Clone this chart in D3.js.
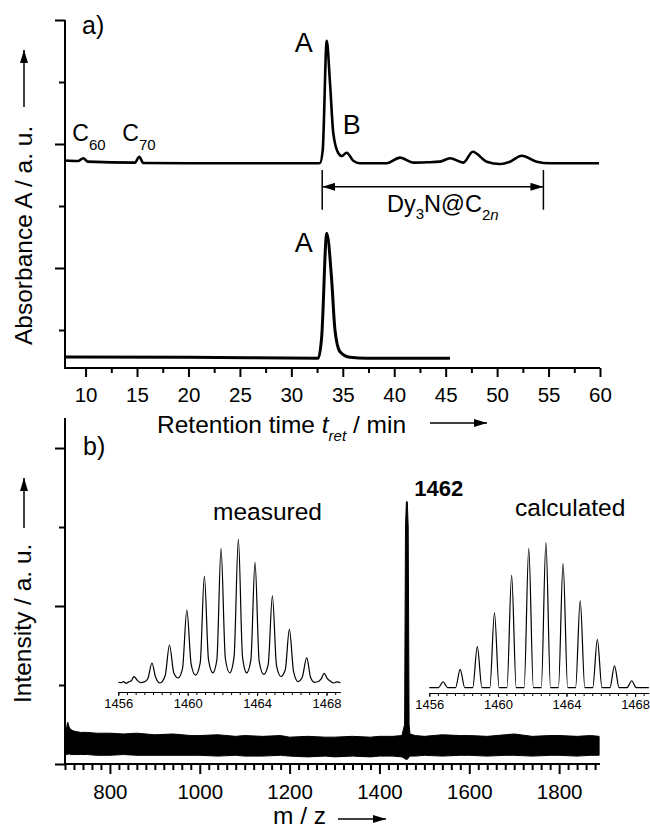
<!DOCTYPE html>
<html>
<head>
<meta charset="utf-8">
<script src="https://cdn.jsdelivr.net/npm/d3@7"></script>
<style>
  body { margin: 0; background: #fff; }
  svg text { font-family: "Liberation Sans", Arial, Helvetica, sans-serif; fill: #000; }
</style>
</head>
<body>
<script>
// ---- a) HPLC traces (retention time in min, absorbance in a.u.) ----
var topTime = [8, 9.3, 9.78, 10.2, 14.8, 15.22, 15.6, 20, 32.5, 32.79, 33.05, 33.44, 33.76, 34.08, 34.57, 34.9, 35.38, 36.02, 36.67, 39.27, 40.56, 41.86, 43.16, 44.45, 45.42, 46.72, 47.63, 48.99, 50.28, 51.26, 52.39, 53.85, 55.14, 59.9];
var topAbs  = [2.734, 2.726, 2.77, 2.715, 2.70, 2.795, 2.694, 2.69, 2.69, 2.694, 2.90, 4.666, 3.98, 3.17, 2.85, 2.806, 2.86, 2.73, 2.69, 2.69, 2.78, 2.70, 2.705, 2.715, 2.77, 2.70, 2.876, 2.715, 2.677, 2.715, 2.81, 2.715, 2.69, 2.69];
var lowTime = [8, 20, 32.62, 32.95, 33.44, 33.92, 34.24, 34.73, 35.7, 37.33, 45.42];
var lowAbs  = [-0.437, -0.44, -0.456, -0.108, 1.56, 0.806, 0.0, -0.35, -0.44, -0.456, -0.456];
var hplcMajor = [10, 15, 20, 25, 30, 35, 40, 45, 50, 55, 60];
var hplcMinor = [12.5, 17.5, 22.5, 27.5, 32.5, 37.5, 42.5, 47.5, 52.5, 57.5];
var dyRange = [33.0, 54.5];

// ---- b) mass spectrum envelope (m/z, intensity a.u.) ----
var msMz  = [700, 703, 706, 709, 712, 718, 725, 735, 750, 770, 800, 830, 860, 900, 940, 980, 1000, 1040, 1080, 1100, 1140, 1180, 1200, 1240, 1280, 1300, 1340, 1380, 1400, 1430, 1450, 1456, 1458, 1460, 1462, 1464, 1466, 1468, 1480, 1500, 1540, 1580, 1600, 1640, 1680, 1700, 1740, 1780, 1800, 1840, 1870, 1889];
var msTop = [0.36, 0.44, 0.53, 0.47, 0.44, 0.42, 0.41, 0.40, 0.40, 0.39, 0.39, 0.38, 0.39, 0.37, 0.38, 0.36, 0.36, 0.37, 0.35, 0.36, 0.35, 0.36, 0.34, 0.35, 0.34, 0.34, 0.35, 0.34, 0.35, 0.35, 0.36, 0.5, 3.0, 3.32, 3.32, 3.0, 0.5, 0.38, 0.36, 0.35, 0.37, 0.36, 0.36, 0.35, 0.37, 0.38, 0.35, 0.36, 0.36, 0.35, 0.36, 0.35];
var msBot = [0.13, 0.12, 0.12, 0.13, 0.12, 0.12, 0.12, 0.12, 0.12, 0.11, 0.11, 0.12, 0.11, 0.11, 0.11, 0.11, 0.11, 0.10, 0.11, 0.10, 0.10, 0.11, 0.10, 0.09, 0.10, 0.09, 0.10, 0.09, 0.10, 0.10, 0.09, 0.07, 0.06, 0.06, 0.06, 0.07, 0.09, 0.10, 0.10, 0.11, 0.10, 0.11, 0.11, 0.10, 0.11, 0.11, 0.10, 0.11, 0.11, 0.10, 0.11, 0.11];
var msMajor = [800, 1000, 1200, 1400, 1600, 1800];
var msMinor = d3.range(700, 1890, 20).filter(function (d) { return msMajor.indexOf(d) < 0; });

// ---- b) isotope pattern insets (m/z, relative intensity %) ----
var measMz = [1456.0, 1456.15, 1456.3, 1456.45, 1456.6, 1456.75, 1456.9, 1457.1, 1457.3, 1457.5, 1457.7, 1457.94, 1458.15, 1458.4, 1458.7, 1458.95, 1459.2, 1459.45, 1459.7, 1459.95, 1460.2, 1460.45, 1460.72, 1460.96, 1461.2, 1461.45, 1461.68, 1461.92, 1462.17, 1462.42, 1462.67, 1462.92, 1463.16, 1463.4, 1463.64, 1463.88, 1464.12, 1464.38, 1464.64, 1464.88, 1465.12, 1465.37, 1465.62, 1465.86, 1466.1, 1466.35, 1466.6, 1466.86, 1467.08, 1467.3, 1467.55, 1467.7, 1467.86, 1468.05, 1468.2, 1468.4, 1468.6, 1468.8];
var measI  = [0.5, 0.2, 1.0, -0.3, 0.8, 1.5, 4.4, 1.8, 0.3, 0.8, 3, 13.9, 4, 0, 5, 26.4, 7, 3.5, 10, 50.7, 13, 5.5, 14, 74.3, 16, 7, 16, 93.5, 17, 7, 18, 100, 18, 7, 16, 83.8, 15, 6, 13, 60.6, 12, 4.5, 9, 37.3, 8, 1, 4, 17.6, 4, 0.5, 1.2, 3, 6.7, 3, 1.5, 0, 0.8, 0.3];
var calcMz = [1456.8, 1457.8, 1458.8, 1459.8, 1460.8, 1461.8, 1462.8, 1463.8, 1464.8, 1465.8, 1466.8, 1467.8];
var calcI  = [4.1, 12.7, 28.3, 51.7, 77.7, 96.1, 100, 85.8, 60, 33.4, 15, 4.8];
var insetLabels = [1456, 1460, 1464, 1468];
var insetTicks = d3.range(1456, 1469, 0.5);

var width = 650, height = 829;
var svg = d3.select("body").append("svg").attr("width", width).attr("height", height);

svg.append("defs").append("marker")
    .attr("id", "head")
    .attr("viewBox", "0 0 13 8")
    .attr("refX", 13).attr("refY", 4)
    .attr("markerWidth", 13).attr("markerHeight", 8)
    .attr("markerUnits", "userSpaceOnUse")
    .attr("orient", "auto-start-reverse")
  .append("path").attr("d", "M0,0L13,4L0,8Z").attr("fill", "#000");

function arrow(x1, y1, x2, y2, both) {
    var l = svg.append("line").attr("x1", x1).attr("y1", y1).attr("x2", x2).attr("y2", y2)
        .attr("stroke", "#000").attr("stroke-width", 1.5).attr("marker-end", "url(#head)");
    if (both) l.attr("marker-start", "url(#head)");
}

function styleAxis(g, fs, w) {
    g.attr("font-family", null).attr("font-size", fs);
    g.select(".domain").remove();
    g.selectAll("line").attr("stroke", "#000").attr("stroke-width", w);
}

// ================= panel a =================
var xa = d3.scaleLinear().domain([8, 60]).range([65, 600]);
var ya = d3.scaleLinear().domain([-0.613, 5]).range([368, 20]);

svg.append("g").attr("transform", "translate(0,368)")
    .call(d3.axisBottom(xa).tickValues(hplcMinor).tickSize(5).tickFormat(""))
    .call(styleAxis, 20, 2);
svg.append("g").attr("transform", "translate(0,368)")
    .call(d3.axisBottom(xa).tickValues(hplcMajor).tickSize(9).tickPadding(10).tickFormat(d3.format("d")))
    .call(styleAxis, 20.5, 2);
svg.append("g").attr("transform", "translate(65,0)")
    .call(d3.axisLeft(ya).tickValues([0, 2, 4]).tickSize(6).tickFormat(""))
    .call(styleAxis, 20, 2);
svg.append("g").attr("transform", "translate(65,0)")
    .call(d3.axisLeft(ya).tickValues([1, 3, 5]).tickSize(10).tickFormat(""))
    .call(styleAxis, 20, 2);
svg.append("path")
    .attr("d", "M" + xa(8) + "," + ya(5) + "V" + ya(-0.613) + "H" + xa(60))
    .attr("fill", "none").attr("stroke", "#000").attr("stroke-width", 2);

var lineA = d3.line().x(function (d) { return xa(d[0]); }).y(function (d) { return ya(d[1]); })
    .curve(d3.curveMonotoneX);
svg.append("path").datum(d3.zip(topTime, topAbs)).attr("d", lineA)
    .attr("fill", "none").attr("stroke", "#000").attr("stroke-width", 2.6).attr("stroke-linejoin", "round");
svg.append("path").datum(d3.zip(lowTime, lowAbs)).attr("d", lineA)
    .attr("fill", "none").attr("stroke", "#000").attr("stroke-width", 3).attr("stroke-linejoin", "round");

// Dy3N@C2n range bracket
dyRange.forEach(function (t) {
    svg.append("line").attr("x1", xa(t)).attr("x2", xa(t)).attr("y1", ya(2.58)).attr("y2", ya(1.94))
        .attr("stroke", "#000").attr("stroke-width", 1.5);
});
arrow(xa(dyRange[0]), ya(2.31), xa(dyRange[1]), ya(2.31), true);
var dy = svg.append("text").attr("x", xa(39.3)).attr("y", ya(1.91)).attr("font-size", 23.5);
dy.append("tspan").text("Dy");
dy.append("tspan").attr("font-size", 15).attr("dy", 7).text("3");
dy.append("tspan").attr("dy", -7).text("N@C");
dy.append("tspan").attr("font-size", 15).attr("dy", 8).text("2");
dy.append("tspan").attr("font-size", 15).attr("font-style", "italic").text("n");

svg.append("text").attr("x", xa(33.44) - 32).attr("y", ya(4.49)).attr("font-size", 27).text("A");
svg.append("text").attr("x", xa(33.44) - 32).attr("y", ya(1.26)).attr("font-size", 27).text("A");
svg.append("text").attr("x", xa(35.38) - 4).attr("y", ya(3.16)).attr("font-size", 27).text("B");

function cLabel(x, y, sub) {
    var t = svg.append("text").attr("x", x).attr("y", y).attr("font-size", 23);
    t.append("tspan").text("C");
    t.append("tspan").attr("font-size", 15).attr("dy", 9).text(sub);
}
cLabel(xa(9.78) - 11, ya(3.05), "60");
cLabel(xa(15.22) - 17, ya(3.05), "70");

svg.append("text").attr("x", 82).attr("y", 34).attr("font-size", 25).text("a)");

var xtA = svg.append("text").attr("x", 157).attr("y", 433).attr("font-size", 24.5);
xtA.append("tspan").text("Retention time ");
xtA.append("tspan").attr("font-style", "italic").text("t");
xtA.append("tspan").attr("font-style", "italic").attr("font-size", 15).attr("dy", 8).text("ret");
xtA.append("tspan").attr("dy", -8).text(" / min");
arrow(430, 423, 487, 423);

svg.append("text").attr("transform", "translate(32,345) rotate(-90)").attr("font-size", 24.5)
    .text("Absorbance A / a. u.");
arrow(24, 107, 24, 50);

// ================= panel b =================
var xb = d3.scaleLinear().domain([700, 1891]).range([65, 600]);
var yb = d3.scaleLinear().domain([0, 4.38]).range([764, 418]);

svg.append("g").attr("transform", "translate(0,764)")
    .call(d3.axisBottom(xb).tickValues(msMinor).tickSize(6).tickFormat(""))
    .call(styleAxis, 20, 2);
svg.append("g").attr("transform", "translate(0,764)")
    .call(d3.axisBottom(xb).tickValues(msMajor).tickSize(10).tickPadding(10).tickFormat(d3.format("d")))
    .call(styleAxis, 20.5, 2);
svg.append("g").attr("transform", "translate(65,0)")
    .call(d3.axisLeft(yb).tickValues([1, 3]).tickSize(6).tickFormat(""))
    .call(styleAxis, 20, 2);
svg.append("g").attr("transform", "translate(65,0)")
    .call(d3.axisLeft(yb).tickValues([0, 2, 4]).tickSize(10).tickFormat(""))
    .call(styleAxis, 20, 2);
svg.append("path")
    .attr("d", "M" + xb(700) + "," + yb(4.38) + "V" + yb(0) + "H" + xb(1891))
    .attr("fill", "none").attr("stroke", "#000").attr("stroke-width", 2);

var msArea = d3.area()
    .x(function (d) { return xb(d[0]); })
    .y0(function (d) { return yb(d[2]); })
    .y1(function (d) { return yb(d[1]); });
svg.append("path").datum(d3.zip(msMz, msTop, msBot)).attr("d", msArea)
    .attr("fill", "#000").attr("stroke", "#000").attr("stroke-width", 1);

svg.append("text").attr("x", xb(1462) + 7).attr("y", 496).attr("font-size", 22)
    .attr("font-weight", "bold").text("1462");

// insets
var xM = d3.scaleLinear().domain([1456, 1468.8]).range([118.3, 340.4]);
var yM = d3.scaleLinear().domain([0, 100]).range([683, 539]);
var xC = d3.scaleLinear().domain([1456, 1468.8]).range([429.3, 648.8]);
var yC = d3.scaleLinear().domain([0, 100]).range([687.7, 542.7]);

function insetAxis(xs, y0) {
    svg.append("g").attr("transform", "translate(0," + y0 + ")")
        .call(d3.axisBottom(xs).tickValues(insetTicks).tickSize(3).tickFormat("").tickSizeOuter(0))
        .call(function (g) { g.selectAll("line").attr("stroke", "#000"); g.select(".domain").attr("stroke", "#000"); });
    svg.append("g").attr("transform", "translate(0," + y0 + ")")
        .call(d3.axisBottom(xs).tickValues(insetLabels).tickSize(4).tickPadding(3).tickFormat(d3.format("d")))
        .call(styleAxis, 13, 1);
}
insetAxis(xM, 692);
insetAxis(xC, 693);

svg.append("path").datum(d3.zip(measMz, measI))
    .attr("d", d3.line().x(function (d) { return xM(d[0]); }).y(function (d) { return yM(d[1]); })
        .curve(d3.curveMonotoneX))
    .attr("fill", "none").attr("stroke", "#000").attr("stroke-width", 1.2);

var calcPts = [[1456, 0]];
calcMz.forEach(function (m, i) {
    calcPts.push([m - 0.27, 0], [m, calcI[i]], [m + 0.27, 0]);
});
calcPts.push([1468.8, 0]);
svg.append("path").datum(calcPts)
    .attr("d", d3.line().x(function (d) { return xC(d[0]); }).y(function (d) { return yC(d[1]); })
        .curve(d3.curveMonotoneX))
    .attr("fill", "none").attr("stroke", "#000").attr("stroke-width", 1.2);

svg.append("text").attr("x", 213).attr("y", 520).attr("font-size", 24.5).text("measured");
svg.append("text").attr("x", 515).attr("y", 516).attr("font-size", 24.5).text("calculated");

svg.append("text").attr("x", 83).attr("y", 455).attr("font-size", 25).text("b)");

svg.append("text").attr("x", 273).attr("y", 824).attr("font-size", 24.5).text("m / z");
arrow(338, 819, 386, 819);

svg.append("text").attr("transform", "translate(31,703) rotate(-90)").attr("font-size", 24.5)
    .text("Intensity / a. u.");
arrow(24, 528, 24, 478);
</script>
</body>
</html>
